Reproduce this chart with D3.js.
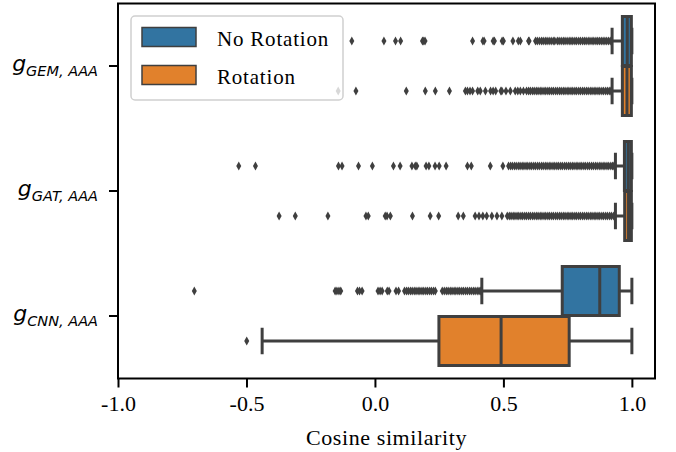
<!DOCTYPE html>
<html>
<head>
<meta charset="utf-8">
<script src="https://cdn.jsdelivr.net/npm/d3@7"></script>
<style>
  body { margin: 0; background: #fff; }
  svg { display: block; }
</style>
</head>
<body>
<svg width="676" height="452"></svg>
<script>
// categories (y) and hues
var categories = ["GEM", "GAT", "CNN"];
var hues = ["No Rotation", "Rotation"];
var hueColors = ["#3274a1", "#e1812c"];
var xTicks = [-1.0, -0.5, 0.0, 0.5, 1.0];

// box stats per category: [whiskerLow, q1, median, q3, whiskerHigh]
var noRotStats = [
    [0.923, 0.963, 0.982, 0.998, 1.0],
    [0.936, 0.971, 0.986, 0.998, 1.0],
    [0.416, 0.729, 0.875, 0.951, 1.0]
];
var rotStats = [
    [0.923, 0.963, 0.981, 0.998, 1.0],
    [0.936, 0.972, 0.987, 0.998, 1.0],
    [-0.439, 0.249, 0.491, 0.756, 1.0]
];

// outliers
var gemNoRotOut = [-0.09, 0.035, 0.08, 0.10, 0.185, 0.19, 0.195, 0.38, 0.42, 0.425, 0.46, 0.465,
    0.495, 0.50, 0.537, 0.558, 0.566, 0.598, 0.60, 0.625, 0.632, 0.64, 0.648, 0.655, 0.663, 0.67,
    0.678, 0.686, 0.694, 0.70, 0.71, 0.717, 0.725, 0.733, 0.74, 0.748, 0.756, 0.763, 0.77, 0.778,
    0.785, 0.793, 0.80, 0.808, 0.815, 0.822, 0.83, 0.837, 0.845, 0.852, 0.86, 0.867, 0.874, 0.881,
    0.888, 0.895, 0.902, 0.909, 0.916];
var gemRotOut = [-0.143, -0.074, 0.122, 0.196, 0.235, 0.29, 0.352, 0.36, 0.37, 0.38, 0.40, 0.41,
    0.43, 0.45, 0.46, 0.47, 0.49, 0.494, 0.51, 0.527, 0.546, 0.556, 0.566, 0.578, 0.59, 0.598, 0.605,
    0.613, 0.62, 0.628, 0.635, 0.643, 0.65, 0.658, 0.665, 0.673, 0.68, 0.688, 0.695, 0.703, 0.71,
    0.718, 0.725, 0.733, 0.74, 0.748, 0.755, 0.763, 0.77, 0.778, 0.785, 0.793, 0.80, 0.808, 0.815,
    0.823, 0.83, 0.838, 0.845, 0.853, 0.86, 0.868, 0.875, 0.883, 0.89, 0.898, 0.905, 0.912, 0.918];
var gatNoRotOut = [-0.53, -0.465, -0.142, -0.128, -0.064, -0.01, 0.072, 0.098, 0.144, 0.157, 0.163,
    0.199, 0.21, 0.234, 0.25, 0.277, 0.36, 0.375, 0.449, 0.498, 0.52, 0.528, 0.535, 0.543, 0.55,
    0.558, 0.565, 0.573, 0.58, 0.588, 0.595, 0.603, 0.61, 0.618, 0.625, 0.633, 0.64, 0.648, 0.655,
    0.663, 0.67, 0.678, 0.685, 0.693, 0.70, 0.708, 0.715, 0.723, 0.73, 0.738, 0.745, 0.753, 0.76,
    0.768, 0.775, 0.783, 0.79, 0.798, 0.805, 0.813, 0.82, 0.828, 0.835, 0.843, 0.85, 0.858, 0.865,
    0.873, 0.88, 0.888, 0.895, 0.903, 0.91, 0.918, 0.925, 0.93];
var gatRotOut = [-0.373, -0.31, -0.183, -0.035, -0.026, 0.04, 0.047, 0.06, 0.146, 0.215, 0.248,
    0.324, 0.344, 0.39, 0.405, 0.42, 0.435, 0.455, 0.475, 0.494, 0.515, 0.523, 0.53, 0.538, 0.545,
    0.553, 0.56, 0.568, 0.575, 0.583, 0.59, 0.598, 0.605, 0.613, 0.62, 0.628, 0.635, 0.643, 0.65,
    0.658, 0.665, 0.673, 0.68, 0.688, 0.695, 0.703, 0.71, 0.718, 0.725, 0.733, 0.74, 0.748, 0.755,
    0.763, 0.77, 0.778, 0.785, 0.793, 0.80, 0.808, 0.815, 0.823, 0.83, 0.838, 0.845, 0.853, 0.86,
    0.868, 0.875, 0.883, 0.89, 0.898, 0.905, 0.913, 0.92, 0.928];
var cnnNoRotOut = [-0.703, -0.155, -0.148, -0.14, -0.133, -0.068, -0.06, -0.05, 0.012, 0.02, 0.028,
    0.048, 0.055, 0.082, 0.092, 0.115, 0.123, 0.13, 0.138, 0.145, 0.153, 0.16, 0.168, 0.175, 0.183,
    0.19, 0.198, 0.205, 0.213, 0.22, 0.228, 0.235, 0.262, 0.27, 0.278, 0.285, 0.293, 0.30, 0.308,
    0.315, 0.323, 0.33, 0.338, 0.345, 0.353, 0.36, 0.368, 0.375, 0.383, 0.39, 0.398, 0.405, 0.41];
var cnnRotOut = [-0.499];

var noRotOutliers = [gemNoRotOut, gatNoRotOut, cnnNoRotOut];
var rotOutliers = [gemRotOut, gatRotOut, cnnRotOut];

var svg = d3.select("svg");
var plotLeft = 118, plotRight = 655, plotTop = 3.5, plotBottom = 378.5;
var edge = "#3f3f3f";
var lw = 3;

var x = d3.scaleLinear().domain([-1.0, 1.09]).range([plotLeft, plotRight]);
var y = d3.scaleBand().domain(categories).range([plotTop, plotBottom]).paddingInner(0).paddingOuter(0);
var hueOffset = d3.scaleBand().domain(hues).range([-0.4, 0.4]);

var boxH = y.bandwidth() * 0.4 * 0.98;

function drawBox(stats, outliers, hueIdx) {
    var g = svg.append("g");
    categories.forEach(function (cat, i) {
        var s = stats[i];
        var cy = y(cat) + y.bandwidth() / 2 + (hueOffset(hues[hueIdx]) + 0.2) * y.bandwidth();
        // whiskers
        g.append("line").attr("x1", x(s[0])).attr("x2", x(s[1]))
            .attr("y1", cy).attr("y2", cy)
            .attr("stroke", edge).attr("stroke-width", lw);
        g.append("line").attr("x1", x(s[3])).attr("x2", x(s[4]))
            .attr("y1", cy).attr("y2", cy)
            .attr("stroke", edge).attr("stroke-width", lw);
        // caps
        [s[0], s[4]].forEach(function (v) {
            g.append("line").attr("x1", x(v)).attr("x2", x(v))
                .attr("y1", cy - boxH / 4 - 1).attr("y2", cy + boxH / 4 + 1)
                .attr("stroke", edge).attr("stroke-width", lw);
        });
        // box
        g.append("rect").attr("x", x(s[1])).attr("width", x(s[3]) - x(s[1]))
            .attr("y", cy - boxH / 2).attr("height", boxH)
            .attr("fill", hueColors[hueIdx]).attr("stroke", edge).attr("stroke-width", lw);
        // median
        g.append("line").attr("x1", x(s[2])).attr("x2", x(s[2]))
            .attr("y1", cy - boxH / 2).attr("y2", cy + boxH / 2)
            .attr("stroke", edge).attr("stroke-width", lw);
        // fliers
        g.selectAll(".flier" + hueIdx + i)
            .data(outliers[i])
            .enter().append("path")
            .attr("d", "M0,-4.5L2.5,0L0,4.5L-2.5,0Z")
            .attr("transform", function (d) { return "translate(" + x(d) + "," + cy + ")"; })
            .attr("fill", edge);
    });
}

drawBox(noRotStats, noRotOutliers, 0);
drawBox(rotStats, rotOutliers, 1);

// x axis
var fmt = d3.format(".1f");
var xAxis = svg.append("g")
    .attr("transform", "translate(0," + plotBottom + ")")
    .call(d3.axisBottom(x).tickValues(xTicks)
        .tickFormat(function (d) { return fmt(d).replace("\u2212", "-"); })
        .tickSize(9).tickPadding(8));
xAxis.select(".domain").remove();
xAxis.selectAll("line").attr("stroke", "#000").attr("stroke-width", 2);
xAxis.selectAll("text")
    .attr("fill", "#000")
    .style("font-family", "'Liberation Serif', serif")
    .style("font-size", "22px");

// y axis
var yAxis = svg.append("g")
    .attr("transform", "translate(" + plotLeft + ",0)")
    .call(d3.axisLeft(y).tickSize(9).tickFormat(""));
yAxis.select(".domain").remove();
yAxis.selectAll("line").attr("stroke", "#000").attr("stroke-width", 2);

yAxis.selectAll(".tick").each(function (d) {
    var t = d3.select(this).append("text")
        .attr("x", -20).attr("y", 5)
        .attr("text-anchor", "end")
        .attr("fill", "#000")
        .style("font-family", "'DejaVu Sans', sans-serif")
        .style("font-style", "italic");
    t.append("tspan").style("font-size", "22px").text("g");
    t.append("tspan").style("font-size", "14.5px").attr("dy", 5).text(d + ", AAA");
});

// frame
svg.append("rect")
    .attr("x", plotLeft).attr("y", plotTop)
    .attr("width", plotRight - plotLeft).attr("height", plotBottom - plotTop)
    .attr("fill", "none").attr("stroke", "#000").attr("stroke-width", 2);

// x label
svg.append("text")
    .attr("x", (plotLeft + plotRight) / 2).attr("y", 445)
    .attr("text-anchor", "middle")
    .style("font-family", "'Liberation Serif', serif")
    .style("font-size", "22px")
    .style("letter-spacing", "0.6px")
    .text("Cosine similarity");

// legend
var legend = svg.append("g").attr("transform", "translate(131,16)");
legend.append("rect")
    .attr("width", 212).attr("height", 84).attr("rx", 4)
    .attr("fill", "#fff").attr("fill-opacity", 0.8)
    .attr("stroke", "#d0d0d0").attr("stroke-width", 1.5);
hues.forEach(function (h, i) {
    legend.append("rect")
        .attr("x", 11).attr("y", 11.5 + i * 38)
        .attr("width", 54).attr("height", 19)
        .attr("fill", hueColors[i]).attr("stroke", edge).attr("stroke-width", 1.5);
    legend.append("text")
        .attr("x", 86).attr("y", 29.5 + i * 38)
        .style("font-family", "'Liberation Serif', serif")
        .style("font-size", "21px")
        .style("letter-spacing", "0.8px")
        .text(h);
});
</script>
</body>
</html>
